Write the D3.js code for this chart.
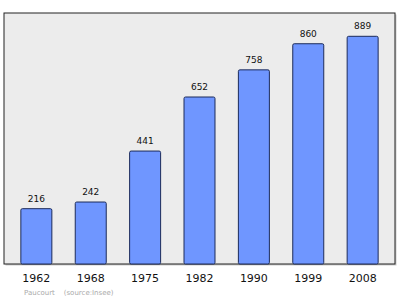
<!DOCTYPE html>
<html>
<head>
<meta charset="utf-8">
<title>Paucourt population</title>
<script src="https://d3js.org/d3.v7.min.js"></script>
<style>
  body { margin: 0; background: #fff; }
  text { font-family: "DejaVu Sans", sans-serif; }
</style>
</head>
<body>
<svg id="chart" width="400" height="299"></svg>
<script>
// data
var years = ["1962", "1968", "1975", "1982", "1990", "1999", "2008"];
var population = [216, 242, 441, 652, 758, 860, 889];

var svg = d3.select("#chart");
var plotL = 4, plotR = 395, plotT = 13, plotB = 264;

var x = d3.scaleBand().domain(years).range([plotL, plotR]).paddingInner(0.43).paddingOuter(0.31);
var y = d3.scaleLinear().domain([0, 980]).range([plotB, plotT]);

// plot background + light shadow
svg.append("rect").attr("x", plotL + 1.5).attr("y", plotT + 1.5).attr("width", plotR - plotL).attr("height", plotB - plotT)
  .attr("fill", "#ccc");
svg.append("rect").attr("x", plotL).attr("y", plotT).attr("width", plotR - plotL).attr("height", plotB - plotT)
  .attr("fill", "#ececec").attr("stroke", "#222").attr("stroke-width", 1);

svg.selectAll(".bar").data(population).enter().append("rect")
  .attr("class", "bar")
  .attr("x", function(d, i) { return x(years[i]); })
  .attr("y", function(d) { return y(d); })
  .attr("width", x.bandwidth())
  .attr("height", function(d) { return plotB - y(d); })
  .attr("rx", 1.5)
  .attr("fill", "#6f96ff")
  .attr("stroke", "#1c2b5a")
  .attr("stroke-width", 1);

svg.selectAll(".val").data(population).enter().append("text")
  .attr("x", function(d, i) { return x(years[i]) + x.bandwidth() / 2; })
  .attr("y", function(d) { return y(d) - 7; })
  .attr("text-anchor", "middle")
  .attr("font-size", "9px")
  .attr("fill", "#111")
  .text(function(d) { return d; });

// x axis labels
svg.selectAll(".yr").data(years).enter().append("text")
  .attr("x", function(d) { return x(d) + x.bandwidth() / 2; })
  .attr("y", 282)
  .attr("text-anchor", "middle")
  .attr("font-size", "11px")
  .attr("fill", "#111")
  .text(function(d) { return d; });

svg.append("text").attr("x", 24).attr("y", 295)
  .attr("font-size", "7px").attr("fill", "#aaa")
  .attr("xml:space", "preserve")
  .text("Paucourt    (source:Insee)");
</script>
</body>
</html>
